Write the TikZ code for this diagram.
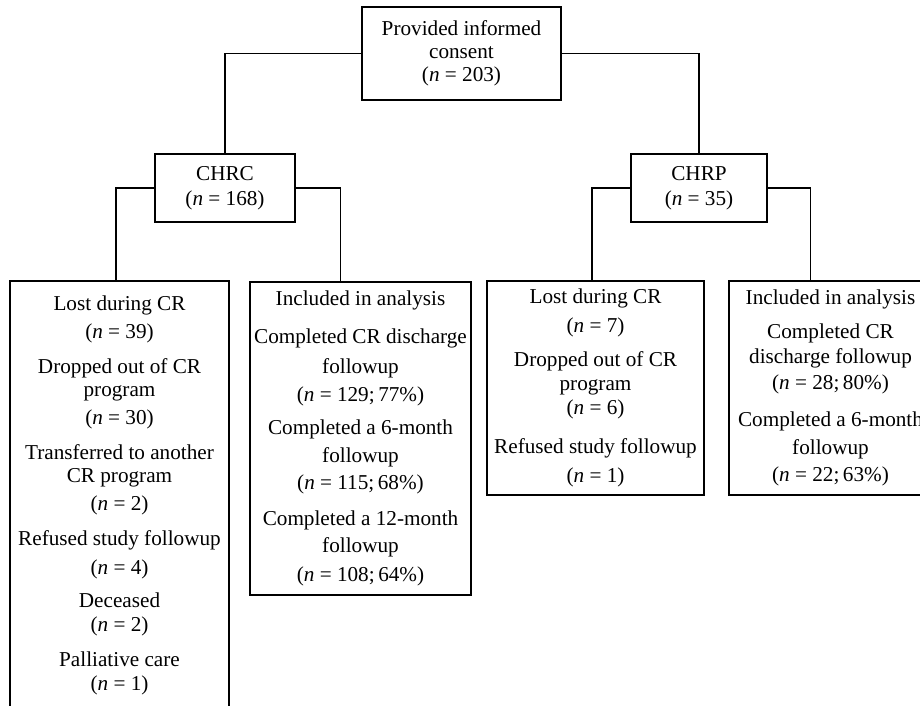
\documentclass[tikz,border=0pt]{standalone}
\usepackage{fontspec}
\setmainfont{Liberation Serif}
\newcommand{\nn}[1]{(\textit{n} = #1)}

\begin{document}
\begin{tikzpicture}[x=0.5pt, y=-0.5pt, line width=0.6pt,
  box/.style={draw, align=center, inner sep=0pt, font=\fontsize{10.6}{11.5}\selectfont}]
\clip (0, 0) rectangle (920, 706);
\node[box, minimum width=99.5pt, minimum height=46.5pt] (consent) at (461.5, 53.5) {Provided informed\\consent\\\nn{203}};
\node[box, minimum width=70pt, minimum height=34pt] (chrc) at (225, 188) {CHRC\\[1pt]\nn{168}};
\node[box, minimum width=68pt, minimum height=34pt] (chrp) at (699, 188) {CHRP\\[1pt]\nn{35}};
\node[box, minimum width=109.5pt, minimum height=214pt] (lostc) at (119.5, 495) {Lost during CR\\[2.5pt]\nn{39}\\[6pt]Dropped out of CR\\program\\[2.5pt]\nn{30}\\[6pt]Transferred to another\\CR program\\[2.5pt]\nn{2}\\[6pt]Refused study followup\\[3pt]\nn{4}\\[5pt]Deceased\\[0.5pt]\nn{2}\\[6pt]Palliative care\\[0.5pt]\nn{1}};
\node[box, minimum width=110.5pt, minimum height=156.5pt] (inclc) at (360.5, 438.5) {Included in analysis\\[7.5pt]Completed CR discharge\\[3.5pt]followup\\[2.5pt]\nn{129;\,77\%}\\[5pt]Completed a 6-month\\[2.5pt]followup\\[2pt]\nn{115;\,68\%}\\[6.5pt]Completed a 12-month\\[2pt]followup\\[3pt]\nn{108;\,64\%}};
\node[box, minimum width=108.5pt, minimum height=107pt] (lostp) at (595.5, 388) {Lost during CR\\[3pt]\nn{7}\\[5.5pt]Dropped out of CR\\[0.5pt]program\\[0.5pt]\nn{6}\\[8pt]Refused study followup\\[3pt]\nn{1}};
\node[box, minimum width=101.5pt, minimum height=107pt] (inclp) at (830.5, 388) {Included in analysis\\[5.5pt]Completed CR\\[1pt]discharge followup\\[1.5pt]\nn{28;\,80\%}\\[7pt]Completed a 6-month\\[2.5pt]followup\\[2pt]\nn{22;\,63\%}};
\draw (consent.west) -| (chrc.north);
\draw (consent.east) -| (chrp.north);
\draw (chrc.west) -| ([xshift=-1.75pt]lostc.north);
\draw (chrc.east) -| ([xshift=-10pt]inclc.north);
\draw (chrp.west) -| ([xshift=-1.75pt]lostp.north);
\draw (chrp.east) -| ([xshift=-10pt]inclp.north);
\end{tikzpicture}
\end{document}
